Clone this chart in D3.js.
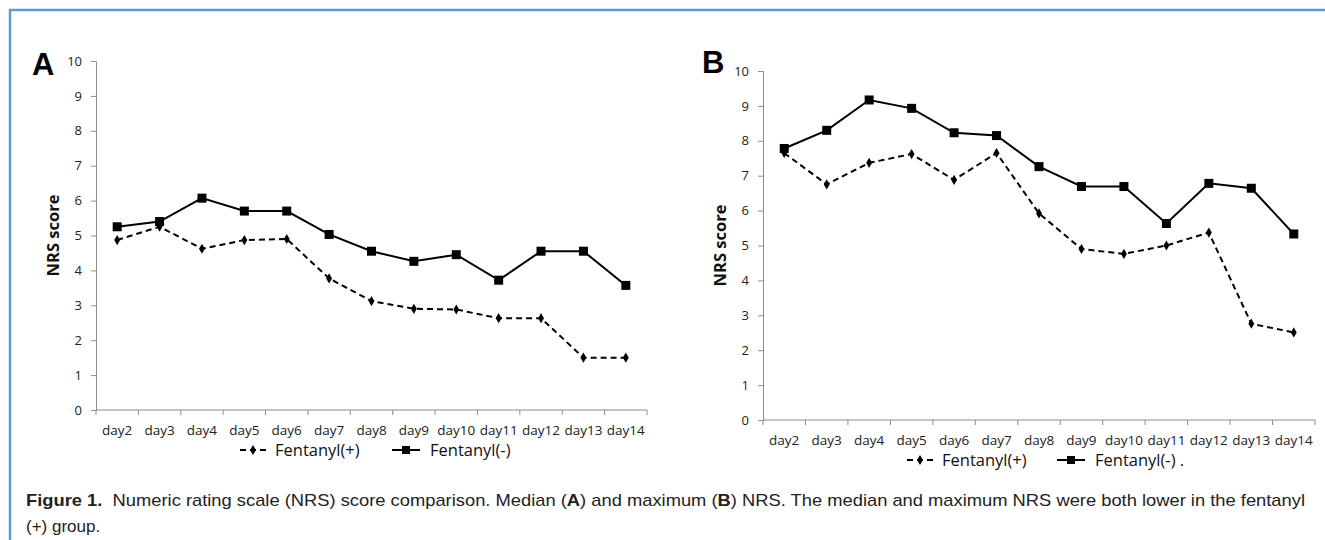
<!DOCTYPE html>
<html>
<head>
<meta charset="utf-8">
<script src="https://cdn.jsdelivr.net/npm/d3@7/dist/d3.min.js"></script>
<style>
  body { margin: 0; background: #fff; }
  svg { display: block; }
</style>
</head>
<body>
<div id="chart"></div>
<script>
const days = ["day2", "day3", "day4", "day5", "day6", "day7", "day8", "day9", "day10", "day11", "day12", "day13", "day14"];
const yTicks = [0, 1, 2, 3, 4, 5, 6, 7, 8, 9, 10];

// panel A: median NRS
const medianPlus = [4.87, 5.25, 4.62, 4.87, 4.9, 3.77, 3.12, 2.9, 2.88, 2.63, 2.63, 1.5, 1.5];
const medianMinus = [5.25, 5.4, 6.07, 5.7, 5.7, 5.03, 4.55, 4.26, 4.45, 3.72, 4.55, 4.55, 3.57];

// panel B: maximum NRS
const maxPlus = [7.65, 6.75, 7.37, 7.62, 6.88, 7.65, 5.92, 4.9, 4.76, 5.0, 5.37, 2.76, 2.51];
const maxMinus = [7.78, 8.3, 9.17, 8.93, 8.23, 8.15, 7.26, 6.69, 6.69, 5.63, 6.78, 6.64, 5.33];

const seriesNames = ["Fentanyl(+)", "Fentanyl(-)"];

const W = 1325, H = 540;
const svg = d3.select("#chart").append("svg").attr("width", W).attr("height", H);

// frame (top and left edges only visible)
svg.append("path")
  .attr("d", `M10,${H} V10 H${W}`)
  .attr("fill", "none")
  .attr("stroke", "#5b9bd5")
  .attr("stroke-width", 2.5);

const tickFont = "'Open Sans', 'Noto Sans', sans-serif";
const axisColor = "#8c8c8c";

function drawPanel(opts) {
  const { letter, x0, x1, yTop, yBot, plus, minus, legendY, legendX, trailingDot } = opts;
  const g = svg.append("g");

  const x = d3.scaleBand().domain(days).range([x0, x1]);
  const y = d3.scaleLinear().domain([0, 10]).range([yBot, yTop]);

  // y axis
  const yAxis = d3.axisLeft(y).tickValues(yTicks).tickSize(5).tickPadding(9);
  const ya = g.append("g").attr("transform", `translate(${x0},0)`).call(yAxis);
  ya.select(".domain").attr("stroke", axisColor);
  ya.selectAll(".tick line").attr("stroke", axisColor);
  ya.selectAll(".tick text").attr("fill", "#222").style("font-family", tickFont).style("font-size", "13px");

  // x axis: ticks at band boundaries
  const xa = g.append("g").attr("transform", `translate(0,${yBot})`);
  xa.append("line").attr("x1", x0).attr("x2", x1).attr("stroke", axisColor);
  const bounds = days.map(d => x(d)).concat([x1]);
  xa.selectAll("line.tk").data(bounds).enter().append("line")
    .attr("class", "tk")
    .attr("x1", d => d).attr("x2", d => d)
    .attr("y1", 0).attr("y2", 5)
    .attr("stroke", axisColor);
  xa.selectAll("text").data(days).enter().append("text")
    .attr("x", d => x(d) + x.bandwidth() / 2)
    .attr("y", 25)
    .attr("text-anchor", "middle")
    .attr("fill", "#222")
    .style("font-family", tickFont).style("font-size", "13.5px")
    .text(d => d);

  // y label
  g.append("text")
    .attr("transform", `translate(${x0 - 43},${(yTop + yBot) / 2}) rotate(-90)`)
    .attr("text-anchor", "middle")
    .attr("dy", "0.35em")
    .style("font-family", tickFont).style("font-size", "16.5px").style("font-weight", "bold")
    .attr("fill", "#111")
    .text("NRS score");

  // panel letter
  g.append("text")
    .attr("x", opts.letterX).attr("y", opts.letterY)
    .style("font-family", "'Liberation Sans', Arial, sans-serif")
    .style("font-size", "31px").style("font-weight", "bold")
    .attr("fill", "#000")
    .text(letter);

  const cx = (d, i) => x(days[i]) + x.bandwidth() / 2;
  const line = d3.line().x(cx).y(d => y(d));

  // Fentanyl(+) dashed with small diamonds
  g.append("path").datum(plus)
    .attr("d", line).attr("fill", "none")
    .attr("stroke", "#000").attr("stroke-width", 2)
    .attr("stroke-dasharray", "6,4");
  const diamond = d3.symbol().type(d3.symbolDiamond).size(30);
  g.selectAll("path.dm").data(plus).enter().append("path")
    .attr("class", "dm")
    .attr("d", diamond)
    .attr("transform", (d, i) => `translate(${cx(d, i)},${y(d)})`)
    .attr("fill", "#000");

  // Fentanyl(-) solid with squares
  g.append("path").datum(minus)
    .attr("d", line).attr("fill", "none")
    .attr("stroke", "#000").attr("stroke-width", 2);
  g.selectAll("rect.sq").data(minus).enter().append("rect")
    .attr("class", "sq")
    .attr("x", (d, i) => cx(d, i) - 4.5).attr("y", d => y(d) - 4.5)
    .attr("width", 9).attr("height", 9)
    .attr("fill", "#000");

  // legend
  const lg = g.append("g").attr("transform", `translate(${legendX},${legendY})`);
  lg.append("line").attr("x1", 0).attr("x2", 26).attr("y1", 0).attr("y2", 0)
    .attr("stroke", "#000").attr("stroke-width", 2).attr("stroke-dasharray", "6,4");
  lg.append("path").attr("d", diamond).attr("transform", "translate(13,0)").attr("fill", "#000");
  lg.append("text").attr("x", 35).attr("dy", "0.35em")
    .style("font-family", tickFont).style("font-size", "16.5px").attr("fill", "#111")
    .text(seriesNames[0]);
  const off = opts.legendGap;
  lg.append("line").attr("x1", off).attr("x2", off + 28).attr("y1", 0).attr("y2", 0)
    .attr("stroke", "#000").attr("stroke-width", 2);
  lg.append("rect").attr("x", off + 10).attr("y", -4).attr("width", 8).attr("height", 8).attr("fill", "#000");
  lg.append("text").attr("x", off + 38).attr("dy", "0.35em")
    .style("font-family", tickFont).style("font-size", "16.5px").attr("fill", "#111")
    .text(seriesNames[1] + (trailingDot ? " ." : ""));
}

drawPanel({
  letter: "A", letterX: 32, letterY: 75,
  x0: 96, x1: 647, yTop: 61, yBot: 410,
  plus: medianPlus, minus: medianMinus,
  legendX: 240, legendY: 450, legendGap: 152
});

drawPanel({
  letter: "B", letterX: 702, letterY: 73,
  x0: 763, x1: 1315, yTop: 71, yBot: 420,
  plus: maxPlus, minus: maxMinus,
  legendX: 907, legendY: 460, legendGap: 150, trailingDot: true
});

// caption
const capFont = "'Liberation Sans', Arial, sans-serif";
const cap = svg.append("text")
  .attr("x", 26).attr("y", 506)
  .attr("textLength", 1279).attr("lengthAdjust", "spacingAndGlyphs")
  .style("font-family", capFont)
  .style("font-size", "17px").attr("fill", "#222");
cap.append("tspan").style("font-family", "'Liberation Sans Narrow', " + capFont)
  .style("font-weight", "bold").text("Figure 1.");
cap.append("tspan").text("\u00a0 Numeric rating scale (NRS) score comparison. Median (");
cap.append("tspan").style("font-weight", "bold").text("A");
cap.append("tspan").text(") and maximum (");
cap.append("tspan").style("font-weight", "bold").text("B");
cap.append("tspan").text(") NRS. The median and maximum NRS were both lower in the fentanyl");

svg.append("text")
  .attr("x", 26).attr("y", 532)
  .style("font-family", capFont)
  .style("font-size", "17px").attr("fill", "#222")
  .text("(+) group.");
</script>
</body>
</html>
